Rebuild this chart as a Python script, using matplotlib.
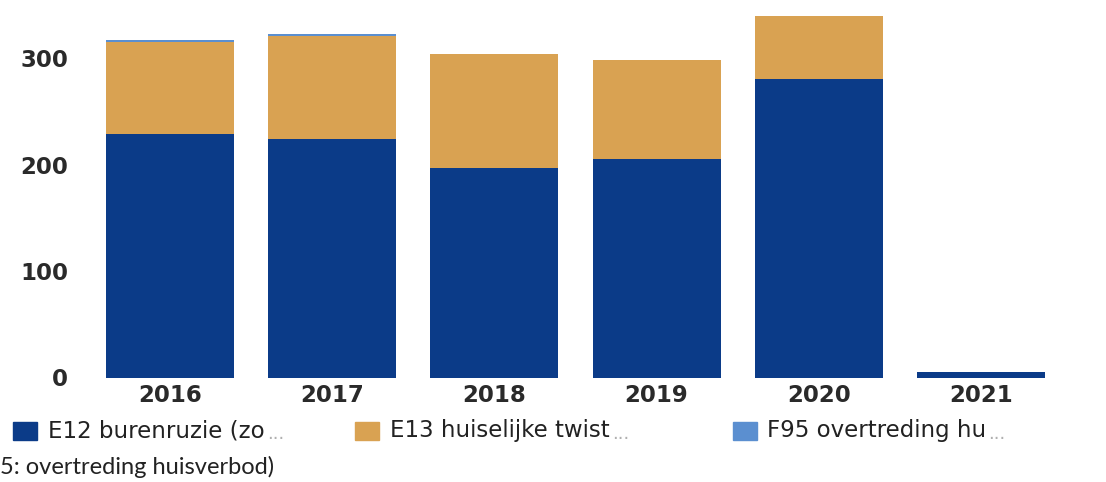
import matplotlib.pyplot as plt
from matplotlib.patches import Rectangle
import numpy as np

plt.rcParams['font.family'] = ['DejaVu Sans']

years = ['2016', '2017', '2018', '2019', '2020', '2021']
e12 = [229, 224, 197, 205, 280, 5]
e13 = [86, 97, 107, 93, 59, 0]
f95 = [2, 2, 0, 0, 0, 0]
legend_labels = ['E12 burenruzie (zo', 'E13 huiselijke twist', 'F95 overtreding hu']
yticks = [0, 100, 200, 300]
caption = '5: overtreding huisverbod)'

colors = ['#0b3b88', '#d9a252', '#5b8fd0']

fig = plt.figure(figsize=(11.06, 4.82), dpi=100)
ax = fig.add_axes([89 / 1106, 1 - 377.5 / 482, 973 / 1106, 367.4 / 482])

x = np.arange(len(years))
w = 0.79
ax.bar(x, e12, w, color=colors[0])
ax.bar(x, e13, w, bottom=e12, color=colors[1])
ax.bar(x, f95, w, bottom=np.array(e12) + np.array(e13), color=colors[2])

ax.set_xlim(-0.5, len(years) - 0.5)
ax.set_ylim(0, 345)
ax.set_yticks(yticks)
ax.set_yticklabels([str(v) for v in yticks], fontsize=16.5, fontweight='bold',
                   color='#2a2a2a', family='DejaVu Sans')
ax.set_xticks(x)
ax.set_xticklabels(years, fontsize=16.5, fontweight='bold', color='#2a2a2a',
                   family='DejaVu Sans')
ax.tick_params(axis='y', length=0, pad=15)
ax.tick_params(axis='x', length=0, pad=5)
for s in ax.spines.values():
    s.set_visible(False)

# legend, drawn by hand so the ellipsis can be grey
sq_x = [13, 355, 733]
txt_x = [48, 390, 767]
for i, lab in enumerate(legend_labels):
    fig.patches.append(Rectangle((sq_x[i] / 1106, 1 - 440 / 482), 24 / 1106, 18 / 482,
                                 transform=fig.transFigure, color=colors[i]))
    t = fig.text(txt_x[i] / 1106, 1 - 431 / 482, lab, fontsize=16.5, color='#222222',
                 va='center', ha='left', family='DejaVu Sans')
    fig.canvas.draw()
    bb = t.get_window_extent()
    fig.text(bb.x1 / 1106 + 0.002, 1 - 434 / 482, '...', fontsize=13, color='#b0b0b0',
             va='center', ha='left', family='DejaVu Sans')

fig.text(0.0, 1 - 467 / 482, caption, fontsize=17, color='#222222',
         family=['Lato', 'DejaVu Sans'], va='center', ha='left')

fig.savefig('out.png', dpi=100)
